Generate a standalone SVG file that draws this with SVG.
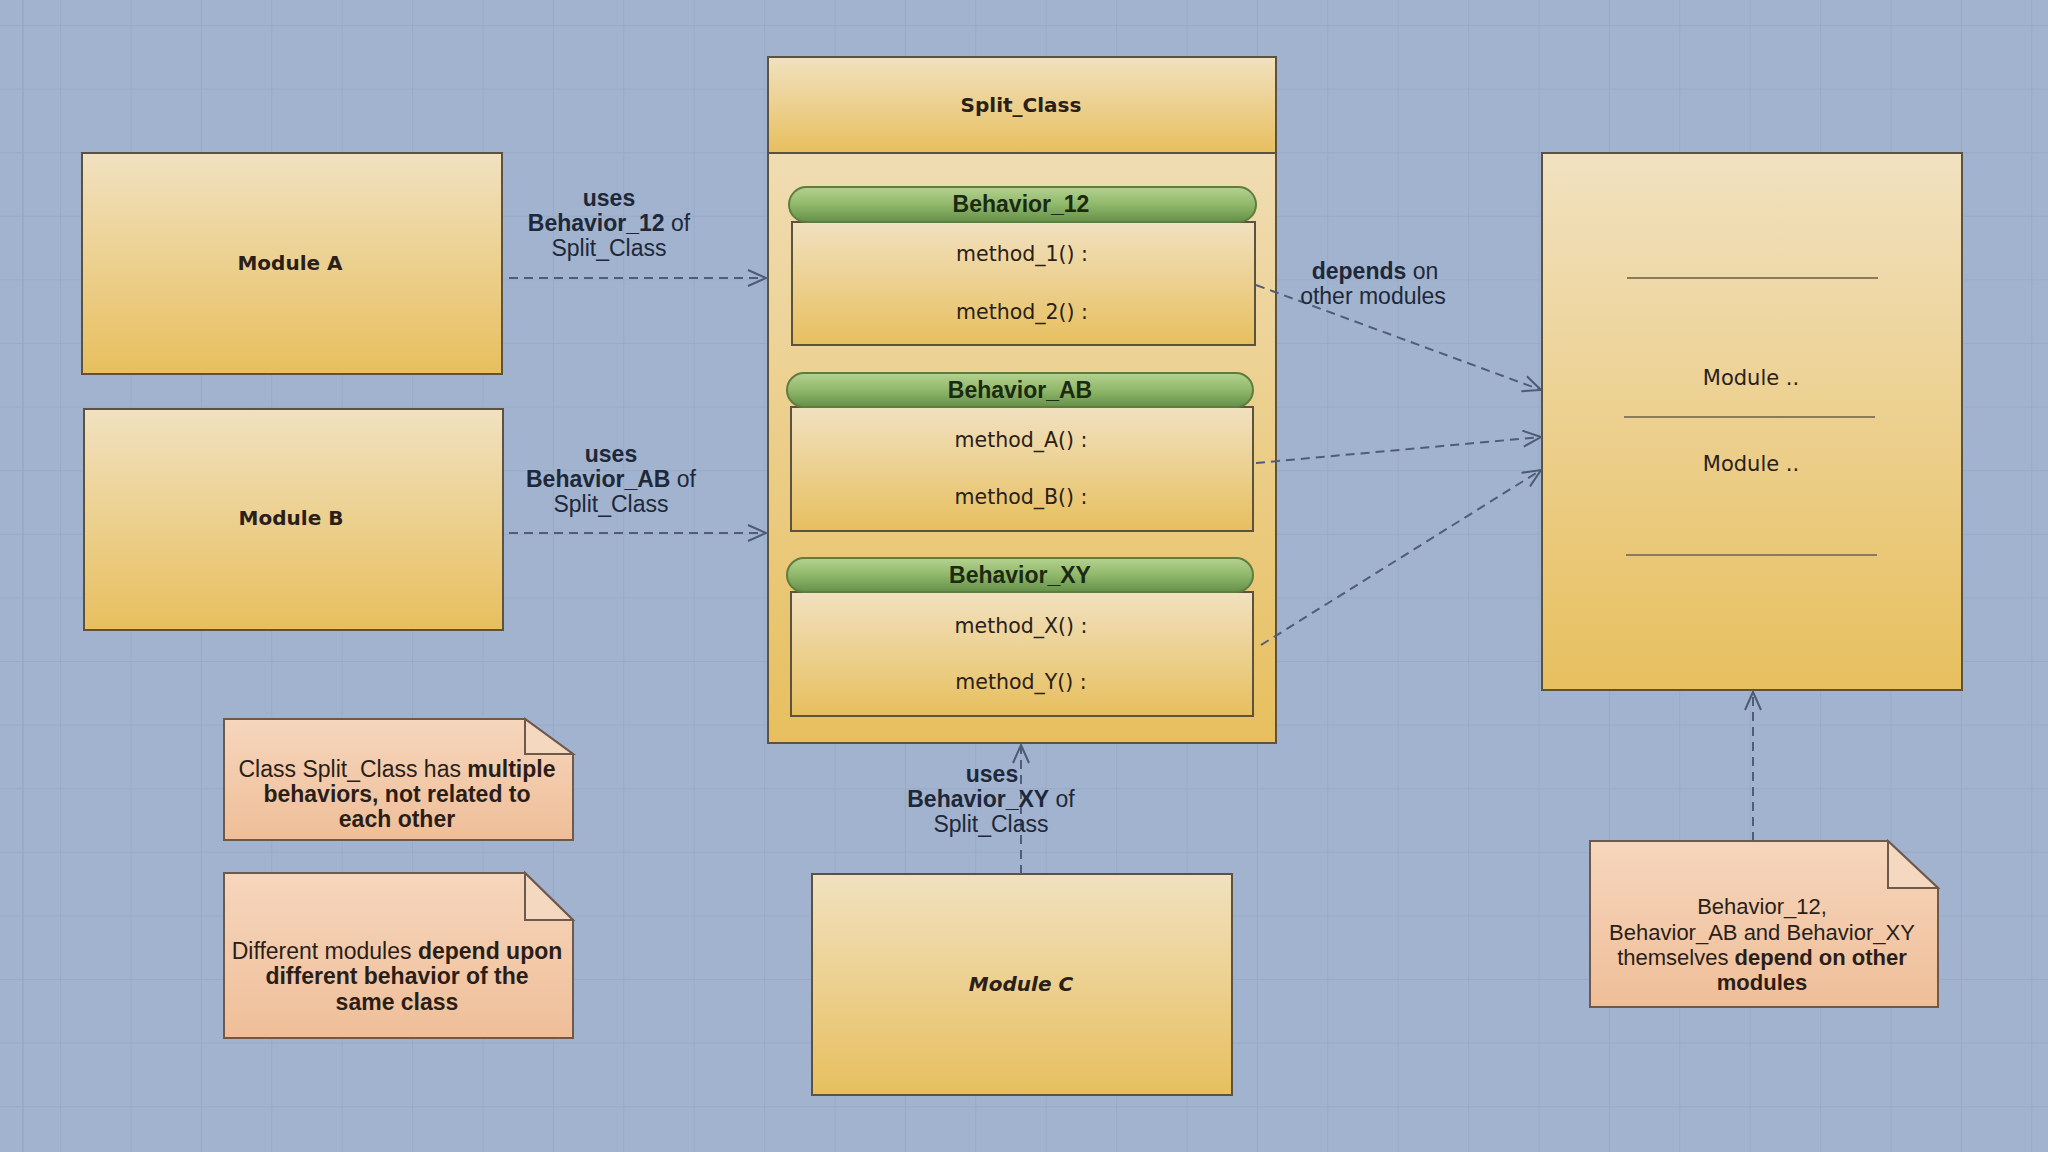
<svg xmlns="http://www.w3.org/2000/svg" width="2048" height="1152" viewBox="0 0 2048 1152">
<defs>
  <pattern id="grid" patternUnits="userSpaceOnUse" x="60" y="25" width="70.4" height="63.6">
    <path d="M0,0 V63.6 M0,0 H70.4" fill="none" stroke="#95a8c5" stroke-width="1.5"/>
  </pattern>
  <linearGradient id="gold" x1="0" y1="0" x2="0" y2="1">
    <stop offset="0" stop-color="#f1e1c0"/>
    <stop offset="1" stop-color="#e7bf5e"/>
  </linearGradient>
  <linearGradient id="peach" x1="0" y1="0" x2="0" y2="1">
    <stop offset="0" stop-color="#f6d6bd"/>
    <stop offset="1" stop-color="#efbe98"/>
  </linearGradient>
  <linearGradient id="green" x1="0" y1="0" x2="0" y2="1">
    <stop offset="0" stop-color="#b5d290"/>
    <stop offset="0.5" stop-color="#90b86a"/>
    <stop offset="1" stop-color="#64904a"/>
  </linearGradient>
  <marker id="open" markerUnits="userSpaceOnUse" markerWidth="22" markerHeight="20" viewBox="0 0 22 20" refX="19" refY="9" orient="auto">
    <path d="M1,1 L19,9 L1,17" fill="none" stroke="#4d5b73" stroke-width="2"/>
  </marker>
  <style>
    .box { fill: url(#gold); stroke: #5c5240; stroke-width: 2; }
    .note { fill: url(#peach); stroke: #6e5a4c; stroke-width: 2; }
    .fold { fill: #f5d8c0; stroke: #6e5a4c; stroke-width: 2; }
    .pill { fill: url(#green); stroke: #5e7d3e; stroke-width: 2; }
    .comic { font-family: "DejaVu Sans", "Liberation Sans", sans-serif; fill: #2a2018; text-anchor: middle; }
    .cb { font-weight: bold; font-size: 20px; }
    .meth { font-size: 20.5px; }
    .mod { font-size: 21px; }
    .ptxt { font-family: "Liberation Sans", Arial, sans-serif; font-weight: bold; font-size: 23px; fill: #1c2a14; text-anchor: middle; }
    .lbl { font-family: "Liberation Sans", Arial, sans-serif; font-size: 23px; fill: #1e2838; text-anchor: middle; }
    .ntxt { font-family: "Liberation Sans", Arial, sans-serif; font-size: 23px; fill: #2a1e18; text-anchor: middle; }
    .n3 { font-size: 22px; }
    .b { font-weight: bold; }
    .dash { fill: none; stroke: #4f5d77; stroke-width: 2; stroke-dasharray: 9 6; }
    .sep { stroke: #8a7a5e; stroke-width: 2; }
  </style>
</defs>

<rect x="0" y="0" width="2048" height="1152" fill="#a1b3cf"/>
<rect x="0" y="0" width="2048" height="1152" fill="url(#grid)"/>
<line x1="23" y1="0" x2="23" y2="1152" stroke="#95a8c5" stroke-width="1.5"/>

<g id="split-class">
  <rect class="box" x="768" y="57" width="508" height="686"/>
  <rect class="box" x="768" y="57" width="508" height="96"/>
  <text class="comic cb" x="1021" y="112">Split_Class</text>
</g>

<g id="behavior-12">
  <rect class="box" x="792" y="222" width="463" height="123"/>
  <rect class="pill" x="789" y="187" width="467" height="35" rx="17.5"/>
  <text class="ptxt" x="1021" y="212">Behavior_12</text>
  <text class="comic meth" x="1022" y="261">method_1() :</text>
  <text class="comic meth" x="1022" y="319">method_2() :</text>
</g>

<g id="behavior-ab">
  <rect class="box" x="791" y="407" width="462" height="124"/>
  <rect class="pill" x="787" y="373" width="466" height="34" rx="17"/>
  <text class="ptxt" x="1020" y="398">Behavior_AB</text>
  <text class="comic meth" x="1021" y="447">method_A() :</text>
  <text class="comic meth" x="1021" y="504">method_B() :</text>
</g>

<g id="behavior-xy">
  <rect class="box" x="791" y="592" width="462" height="124"/>
  <rect class="pill" x="787" y="558" width="466" height="34" rx="17"/>
  <text class="ptxt" x="1020" y="583">Behavior_XY</text>
  <text class="comic meth" x="1021" y="633">method_X() :</text>
  <text class="comic meth" x="1021" y="689">method_Y() :</text>
</g>

<g id="module-a">
  <rect class="box" x="82" y="153" width="420" height="221"/>
  <text class="comic cb" x="290" y="270">Module  A</text>
</g>

<g id="module-b">
  <rect class="box" x="84" y="409" width="419" height="221"/>
  <text class="comic cb" x="291" y="525">Module  B</text>
</g>

<g id="module-c">
  <rect class="box" x="812" y="874" width="420" height="221"/>
  <text class="comic cb" x="1021" y="991" font-style="italic">Module  C</text>
</g>

<g id="other-modules">
  <rect class="box" x="1542" y="153" width="420" height="537"/>
  <line class="sep" x1="1627" y1="278" x2="1878" y2="278"/>
  <line class="sep" x1="1624" y1="417" x2="1875" y2="417"/>
  <line class="sep" x1="1626" y1="555" x2="1877" y2="555"/>
  <text class="comic mod" x="1751" y="385">Module ..</text>
  <text class="comic mod" x="1751" y="471">Module ..</text>
</g>

<g id="note-1">
  <path class="note" d="M224,719 H525 L573,754 V840 H224 Z"/>
  <path class="fold" d="M525,719 V754 H573 Z"/>
  <text class="ntxt" x="397" y="777">Class Split_Class has <tspan class="b">multiple</tspan></text>
  <text class="ntxt b" x="397" y="802">behaviors, not related to</text>
  <text class="ntxt b" x="397" y="827">each other</text>
</g>

<g id="note-2">
  <path class="note" d="M224,873 H525 L573,920 V1038 H224 Z"/>
  <path class="fold" d="M525,873 V920 H573 Z"/>
  <text class="ntxt" x="397" y="959">Different modules <tspan class="b">depend upon</tspan></text>
  <text class="ntxt b" x="397" y="984">different behavior of the</text>
  <text class="ntxt b" x="397" y="1010">same class</text>
</g>

<g id="note-3">
  <path class="note" d="M1590,841 H1888 L1938,888 V1007 H1590 Z"/>
  <path class="fold" d="M1888,841 V888 H1938 Z"/>
  <text class="ntxt n3" x="1762" y="914">Behavior_12,</text>
  <text class="ntxt n3" x="1762" y="940">Behavior_AB and Behavior_XY</text>
  <text class="ntxt n3" x="1762" y="965">themselves <tspan class="b">depend on other</tspan></text>
  <text class="ntxt n3 b" x="1762" y="990">modules</text>
</g>

<g id="connectors">
  <line class="dash" x1="509" y1="278" x2="766" y2="278" marker-end="url(#open)"/>
  <line class="dash" x1="509" y1="533" x2="766" y2="533" marker-end="url(#open)"/>
  <line class="dash" x1="1021" y1="874" x2="1021" y2="745" marker-end="url(#open)"/>
  <line class="dash" x1="1256" y1="285" x2="1541" y2="390" marker-end="url(#open)"/>
  <line class="dash" x1="1256" y1="463" x2="1541" y2="437" marker-end="url(#open)"/>
  <line class="dash" x1="1261" y1="645" x2="1541" y2="470" marker-end="url(#open)"/>
  <line class="dash" x1="1753" y1="841" x2="1753" y2="692" marker-end="url(#open)"/>

  <text class="lbl b" x="609" y="206">uses</text>
  <text class="lbl" x="609" y="231"><tspan class="b">Behavior_12</tspan> of</text>
  <text class="lbl" x="609" y="256">Split_Class</text>

  <text class="lbl b" x="611" y="462">uses</text>
  <text class="lbl" x="611" y="487"><tspan class="b">Behavior_AB</tspan> of</text>
  <text class="lbl" x="611" y="512">Split_Class</text>

  <text class="lbl b" x="992" y="782">uses</text>
  <text class="lbl" x="991" y="807"><tspan class="b">Behavior_XY</tspan> of</text>
  <text class="lbl" x="991" y="832">Split_Class</text>

  <text class="lbl" x="1375" y="279"><tspan class="b">depends</tspan> on</text>
  <text class="lbl" x="1373" y="304">other modules</text>
</g>
</svg>
